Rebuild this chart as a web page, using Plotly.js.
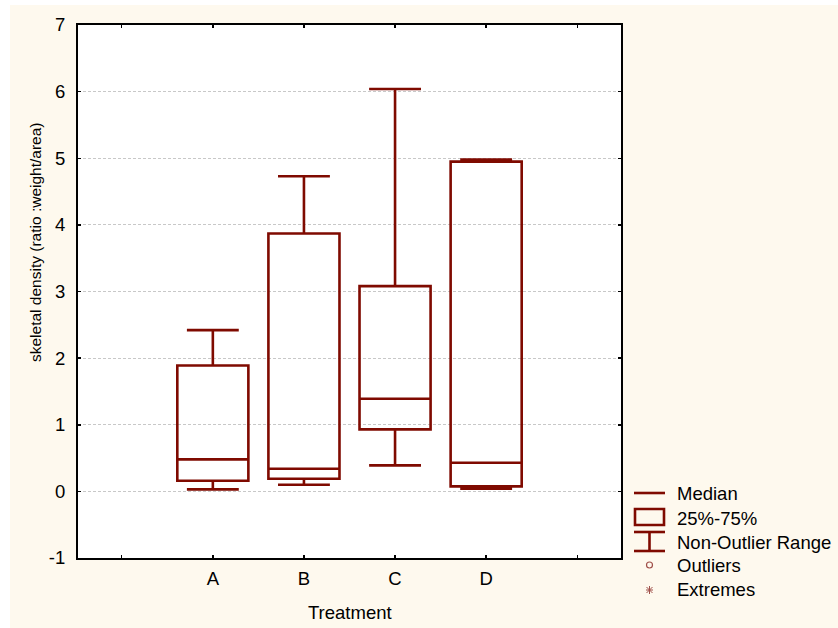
<!DOCTYPE html>
<html>
<head>
<meta charset="utf-8">
<script src="https://cdn.plot.ly/plotly-3.0.1.min.js"></script>
<style>html,body{margin:0;padding:0;background:#ffffff;}</style>
</head>
<body>
<div id="chart" style="width:838px;height:628px;"></div>
<script>
// Data
var categories = ['A', 'B', 'C', 'D'];
var catPositions = [1, 2, 3, 4];
var lowerWhisker = [0.03, 0.10, 0.39, 0.04];
var q1Values = [0.16, 0.19, 0.93, 0.075];
var medianValues = [0.48, 0.34, 1.39, 0.43];
var q3Values = [1.89, 3.87, 3.08, 4.95];
var upperWhisker = [2.42, 4.73, 6.04, 4.98];
var legendLabels = ['Median', '25%-75%', 'Non-Outlier Range', 'Outliers', 'Extremes'];
var xTickVals = [0, 1, 2, 3, 4, 5];
var xTickText = ['', 'A', 'B', 'C', 'D', ''];
var yTickVals = [-1, 0, 1, 2, 3, 4, 5, 6, 7];
var yTickText = ['-1', '0', '1', '2', '3', '4', '5', '6', '7'];
var yTitle = 'skeletal density (ratio :weight/area)';
var xTitle = 'Treatment';

var boxColor = '#7f0a00';
var fontFam = '"Liberation Sans", Arial, sans-serif';
var fs = 18.5;

var trace = {
  type: 'box',
  x: catPositions,
  q1: q1Values,
  median: medianValues,
  q3: q3Values,
  lowerfence: lowerWhisker,
  upperfence: upperWhisker,
  boxpoints: false,
  width: 0.78,
  whiskerwidth: 0.73,
  line: {color: boxColor, width: 2.6},
  fillcolor: 'rgba(255,255,255,0)',
  hoverinfo: 'skip',
  showlegend: false
};

// plot area in pixels
var L = 78, R = 621, T = 25, B = 558;
function px(x) { return (x - L) / (R - L); }
function py(y) { return (B - y) / (B - T); }

var shapes = [
  {type: 'rect', xref: 'paper', yref: 'paper', x0: px(0), x1: px(10), y0: py(628), y1: py(0), fillcolor: '#ffffff', line: {width: 0}, layer: 'below'},
  {type: 'rect', xref: 'paper', yref: 'paper', x0: px(0), x1: px(838), y0: py(5), y1: py(0), fillcolor: '#ffffff', line: {width: 0}, layer: 'below'},
  {type: 'line', xref: 'paper', yref: 'paper', x0: px(634), x1: px(665), y0: py(493), y1: py(493), line: {color: boxColor, width: 2.6}},
  {type: 'rect', xref: 'paper', yref: 'paper', x0: px(635), x1: px(664), y0: py(509), y1: py(525), line: {color: boxColor, width: 2.6}, fillcolor: 'rgba(0,0,0,0)'},
  {type: 'line', xref: 'paper', yref: 'paper', x0: px(634), x1: px(665), y0: py(532), y1: py(532), line: {color: boxColor, width: 2.6}},
  {type: 'line', xref: 'paper', yref: 'paper', x0: px(634), x1: px(665), y0: py(551), y1: py(551), line: {color: boxColor, width: 2.6}},
  {type: 'line', xref: 'paper', yref: 'paper', x0: px(649.5), x1: px(649.5), y0: py(532), y1: py(551), line: {color: boxColor, width: 2.6}},
  {type: 'circle', xref: 'paper', yref: 'paper', x0: px(646.5), x1: px(652.5), y0: py(562), y1: py(568), line: {color: '#a0504a', width: 1.2}, fillcolor: 'rgba(0,0,0,0)'},
  {type: 'line', xref: 'paper', yref: 'paper', x0: px(646), x1: px(653), y0: py(590), y1: py(590), line: {color: '#a0504a', width: 1}},
  {type: 'line', xref: 'paper', yref: 'paper', x0: px(649.5), x1: px(649.5), y0: py(586), y1: py(594), line: {color: '#a0504a', width: 1}},
  {type: 'line', xref: 'paper', yref: 'paper', x0: px(646.5), x1: px(652.5), y0: py(587), y1: py(593), line: {color: '#a0504a', width: 1}},
  {type: 'line', xref: 'paper', yref: 'paper', x0: px(646.5), x1: px(652.5), y0: py(593), y1: py(587), line: {color: '#a0504a', width: 1}}
];

var legendY = [493, 518, 542, 565, 589];
var annotations = legendLabels.map(function (t, i) {
  return {
    text: t, xref: 'paper', yref: 'paper', x: px(675), y: py(legendY[i]),
    xanchor: 'left', yanchor: 'middle', showarrow: false,
    font: {family: fontFam, size: fs, color: '#000000'}
  };
});
annotations.push({
  text: yTitle, xref: 'paper', yref: 'paper', x: px(35), y: py(242),
  xanchor: 'center', yanchor: 'middle', textangle: -90, showarrow: false,
  font: {family: fontFam, size: 15.5, color: '#000000'}
});
annotations.push({
  text: xTitle, xref: 'paper', yref: 'paper', x: px(350), y: py(612),
  xanchor: 'center', yanchor: 'middle', showarrow: false,
  font: {family: fontFam, size: fs, color: '#000000'}
});

var layout = {
  width: 838, height: 628,
  margin: {l: L, r: 838 - R, t: T, b: 628 - B},
  paper_bgcolor: '#fef9ee',
  plot_bgcolor: '#ffffff',
  font: {family: fontFam, size: fs, color: '#000000'},
  showlegend: false,
  xaxis: {
    range: [-0.48, 5.48],
    tickvals: xTickVals,
    ticktext: xTickText,
    ticks: 'inside', ticklen: 3, tickwidth: 1.5, tickcolor: '#000000',
    ticklabelstandoff: 3,
    showline: true, linecolor: '#000000', linewidth: 2, mirror: 'ticks',
    showgrid: false, zeroline: false,
    tickfont: {family: fontFam, size: fs}
  },
  yaxis: {
    range: [-1, 7],
    tickvals: yTickVals,
    ticktext: yTickText,
    ticks: 'inside', ticklen: 3, tickwidth: 1.5, tickcolor: '#000000',
    ticklabelstandoff: 7,
    showline: true, linecolor: '#000000', linewidth: 2, mirror: 'ticks',
    showgrid: true, gridcolor: '#c8c8c8', griddash: '3px,2px', gridwidth: 1,
    zeroline: false,
    tickfont: {family: fontFam, size: fs}
  },
  shapes: shapes,
  annotations: annotations
};

Plotly.newPlot('chart', [trace], layout, {displayModeBar: false, staticPlot: true});
</script>
</body>
</html>
